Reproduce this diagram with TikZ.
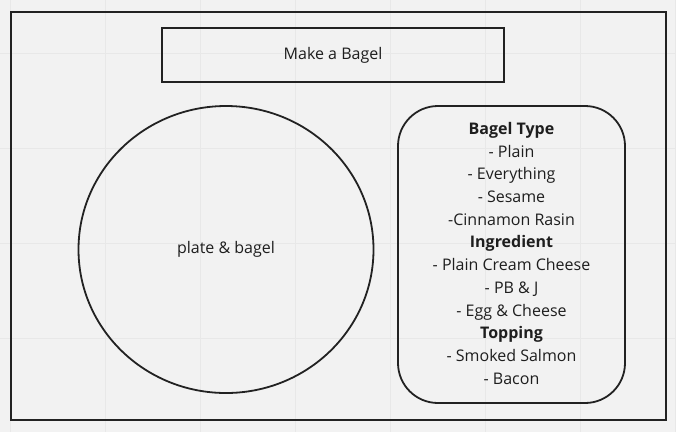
\documentclass[tikz,border=0pt]{standalone}
\usepackage{fontspec}
\setmainfont{Open Sans}
\usetikzlibrary{shapes.geometric}
\definecolor{boardbg}{HTML}{F2F2F2}
\definecolor{gridcol}{HTML}{E8E8E8}
\definecolor{inkcol}{HTML}{222222}
\definecolor{textcol}{HTML}{1E1E1E}

\begin{document}
\begin{tikzpicture}[
  x=1pt, y=-1pt,
  frame/.style={draw=inkcol, line width=1.8pt, inner sep=0pt},
  titlebox/.style={draw=inkcol, line width=1.8pt, minimum width=342pt, minimum height=54pt, font=\fontsize{16}{20}\selectfont, text=textcol},
  plate/.style={ellipse, draw=inkcol, line width=1.8pt, minimum width=295pt, minimum height=287pt, inner sep=0pt, font=\fontsize{16}{20}\selectfont, text=textcol},
  menu/.style={draw=inkcol, line width=1.8pt, rounded corners=40pt, minimum width=227pt, minimum height=297pt, align=center, font=\fontsize{16}{22.7}\selectfont, text=textcol}
]
% background and faint grid
\fill[boardbg] (0,0) rectangle (676,432);
\useasboundingbox (0,0) rectangle (676,432);
\foreach \gx in {10,105,...,676} \draw[gridcol, line width=1pt] (\gx,0) -- (\gx,432);
\foreach \gy in {53,148,...,432} \draw[gridcol, line width=1pt] (0,\gy) -- (676,\gy);

\node[frame, minimum width=655pt, minimum height=408pt] (board) at (338.5,216) {};
\node[titlebox] (title) at (333,55) {Make a Bagel};
\node[plate] (bagel) at (226,249.5) {plate \& bagel};
\node[menu] (options) at (511.5,254.5) {};
\node[align=center, font=\fontsize{16}{22.7}\selectfont, text=textcol] (optlist) at (511.5,253.3) {\textbf{Bagel Type}\\- Plain\\- Everything\\- Sesame\\-Cinnamon Rasin\\\textbf{Ingredient}\\- Plain Cream Cheese\\- PB \& J\\- Egg \& Cheese\\\textbf{Topping}\\- Smoked Salmon\\- Bacon};
\end{tikzpicture}
\end{document}
